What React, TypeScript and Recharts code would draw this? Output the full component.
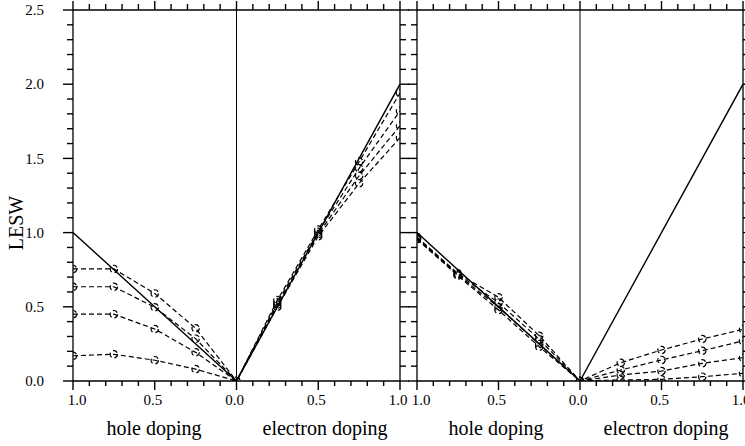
import React from 'react';
import { LineChart, Line, XAxis, YAxis, ReferenceLine } from 'recharts';

// negative values = hole doping, positive = electron doping
const dopingPositions = [-1.0, -0.75, -0.5, -0.25, 0.0, 0.25, 0.5, 0.75, 1.0];
const xTicks = [-1, -0.9, -0.8, -0.7, -0.6, -0.5, -0.4, -0.3, -0.2, -0.1, 0, 0.1, 0.2, 0.3, 0.4, 0.5, 0.6, 0.7, 0.8, 0.9, 1];
const yTicks = [0, 0.1, 0.2, 0.3, 0.4, 0.5, 0.6, 0.7, 0.8, 0.9, 1.0, 1.1, 1.2, 1.3, 1.4, 1.5, 1.6, 1.7, 1.8, 1.9, 2.0, 2.1, 2.2, 2.3, 2.4, 2.5];

// solid reference line
const idealX = [-1, 0, 1];
const idealLeft = [1.0, 0.0, 2.0];
const idealRight = [1.0, 0.0, 2.0];

// left panel dashed series
const leftS1 = [0.755, 0.755, 0.59, 0.355, 0, 0.545, 1.02, 1.478, 1.94];
const leftS2 = [0.635, 0.635, 0.497, 0.285, 0, 0.53, 1.005, 1.433, 1.82];
const leftS3 = [0.45, 0.45, 0.35, 0.193, 0, 0.515, 0.99, 1.383, 1.72];
const leftS4 = [0.17, 0.18, 0.14, 0.08, 0, 0.5, 0.975, 1.332, 1.64];

// right panel dashed series
const rightS1 = [0.97, 0.725, 0.564, 0.305, 0, 0.123, 0.209, 0.283, 0.348];
const rightS2 = [0.965, 0.72, 0.528, 0.281, 0, 0.074, 0.142, 0.204, 0.27];
const rightS3 = [0.96, 0.715, 0.497, 0.249, 0, 0.04, 0.067, 0.119, 0.157];
const rightS4 = [0.955, 0.71, 0.478, 0.231, 0, 0.007, 0.011, 0.029, 0.052];

const FONT = '"Liberation Serif", "Times New Roman", serif';
const CHART_H = 446;
const TOP_AXIS_H = 10;
const BOTTOM_AXIS_H = 30;
const BOTTOM_MARGIN = 35;
const PLOT_H = CHART_H - TOP_AXIS_H - BOTTOM_AXIS_H - BOTTOM_MARGIN;
const TICK_W = 1.4;

const rows = (xs: number[], vs: number[]) => xs.map((x, i) => ({ x, v: vs[i] }));
const isMajor = (v: number) => Math.abs(v * 2 - Math.round(v * 2)) < 1e-6;
const fmt = (v: number) => Math.abs(v).toFixed(1);

// draws the bottom tick, its label, and the matching tick on the top frame edge
const BottomTick = (props: any) => {
  const { x, y, payload } = props;
  const v = payload.value;
  const major = isMajor(v);
  const dx = v <= -0.999 ? 4 : -2;
  const yTop = y - PLOT_H;
  return (
    <g>
      <line x1={x} y1={y} x2={x} y2={y + (major ? 9 : 5)} stroke="#000" strokeWidth={TICK_W} />
      <line x1={x} y1={yTop} x2={x} y2={yTop - (major ? 9 : 6)} stroke="#000" strokeWidth={TICK_W} />
      {major && (
        <text x={x + dx} y={y + 24} textAnchor="middle" fontFamily={FONT} fontSize={15} fill="#000">
          {fmt(v)}
        </text>
      )}
    </g>
  );
};

// draws the left tick, its label, and the matching tick on the right frame edge
const makeLeftTick = (labels: boolean, majorLen: number, minorLen: number, plotW: number) => (props: any) => {
  const { x, y, payload } = props;
  const v = payload.value;
  const major = isMajor(v);
  const xr = x + plotW;
  return (
    <g>
      <line x1={x} y1={y} x2={x - (major ? majorLen : minorLen)} y2={y} stroke="#000" strokeWidth={TICK_W} />
      <line x1={xr} y1={y} x2={xr + (major ? 9 : 6)} y2={y} stroke="#000" strokeWidth={TICK_W} />
      {labels && major && (
        <text x={x - 29} y={y} dy="0.35em" textAnchor="end" fontFamily={FONT} fontSize={15} fill="#000">
          {v.toFixed(1)}
        </text>
      )}
    </g>
  );
};

const axisLine = { stroke: '#000', strokeWidth: 1.3 };

type PanelProps = {
  width: number;
  leftWidth: number;
  rightWidth: number;
  labels: boolean;
  ideal: number[];
  series: number[][];
};

const Panel = ({ width, leftWidth, rightWidth, labels, ideal, series }: PanelProps) => {
  const plotW = width - leftWidth - rightWidth;
  return (
    <LineChart width={width} height={CHART_H} margin={{ top: 0, right: 0, bottom: BOTTOM_MARGIN, left: 0 }}>
      <XAxis
        xAxisId="b"
        type="number"
        dataKey="x"
        domain={[-1, 1]}
        ticks={xTicks}
        interval={0}
        orientation="bottom"
        height={BOTTOM_AXIS_H}
        tickSize={0}
        tickMargin={0}
        tickLine={false}
        axisLine={axisLine}
        tick={BottomTick}
        allowDataOverflow
      />
      <XAxis
        xAxisId="t"
        type="number"
        dataKey="x"
        domain={[-1, 1]}
        orientation="top"
        height={TOP_AXIS_H}
        tickLine={false}
        axisLine={axisLine}
        tick={false}
        allowDataOverflow
      />
      <YAxis
        yAxisId="l"
        type="number"
        domain={[0, 2.5]}
        ticks={yTicks}
        interval={0}
        orientation="left"
        width={leftWidth}
        tickSize={0}
        tickMargin={0}
        tickLine={false}
        axisLine={axisLine}
        tick={makeLeftTick(labels, labels ? 10 : 9, 6, plotW)}
        allowDataOverflow
      />
      <YAxis
        yAxisId="r"
        type="number"
        domain={[0, 2.5]}
        orientation="right"
        width={rightWidth}
        tickLine={false}
        axisLine={axisLine}
        tick={false}
        allowDataOverflow
      />
      <ReferenceLine xAxisId="b" yAxisId="l" x={0} stroke="#000" strokeWidth={1} />
      {series.map((s, i) => (
        <Line
          key={i}
          xAxisId="b"
          yAxisId="l"
          data={rows(dopingPositions, s)}
          dataKey="v"
          type="linear"
          stroke="#000"
          strokeWidth={1.2}
          strokeDasharray="5 3"
          dot={{ r: 3.7, stroke: '#000', strokeWidth: 1.2, fill: 'none' }}
          activeDot={false}
          isAnimationActive={false}
        />
      ))}
      <Line
        xAxisId="b"
        yAxisId="l"
        data={rows(idealX, ideal)}
        dataKey="v"
        type="linear"
        stroke="#000"
        strokeWidth={1.4}
        dot={false}
        activeDot={false}
        isAnimationActive={false}
      />
    </LineChart>
  );
};

export default function App() {
  return (
    <div
      style={{
        position: 'absolute',
        left: 0,
        top: 0,
        width: 745,
        height: 446,
        overflow: 'hidden',
        background: '#fff',
      }}
    >
      <div style={{ position: 'absolute', left: 0, top: 0 }}>
        <Panel width={410} leftWidth={73} rightWidth={10} labels ideal={idealLeft} series={[leftS1, leftS2, leftS3, leftS4]} />
      </div>
      <div style={{ position: 'absolute', left: 407, top: 0 }}>
        <Panel width={338} leftWidth={10} rightWidth={2} labels={false} ideal={idealRight} series={[rightS1, rightS2, rightS3, rightS4]} />
      </div>
      <svg
        width={745}
        height={446}
        style={{ position: 'absolute', left: 0, top: 0, pointerEvents: 'none' }}
      >
        <text x={23} y={223} transform="rotate(-90 23 223)" textAnchor="middle" fontFamily={FONT} fontSize={20} fill="#000">
          LESW
        </text>
        <text x={154} y={435} textAnchor="middle" fontFamily={FONT} fontSize={20} fill="#000">hole doping</text>
        <text x={325} y={435} textAnchor="middle" fontFamily={FONT} fontSize={20} fill="#000">electron doping</text>
        <text x={496} y={435} textAnchor="middle" fontFamily={FONT} fontSize={20} fill="#000">hole doping</text>
        <text x={666} y={435} textAnchor="middle" fontFamily={FONT} fontSize={20} fill="#000">electron doping</text>
      </svg>
    </div>
  );
}
